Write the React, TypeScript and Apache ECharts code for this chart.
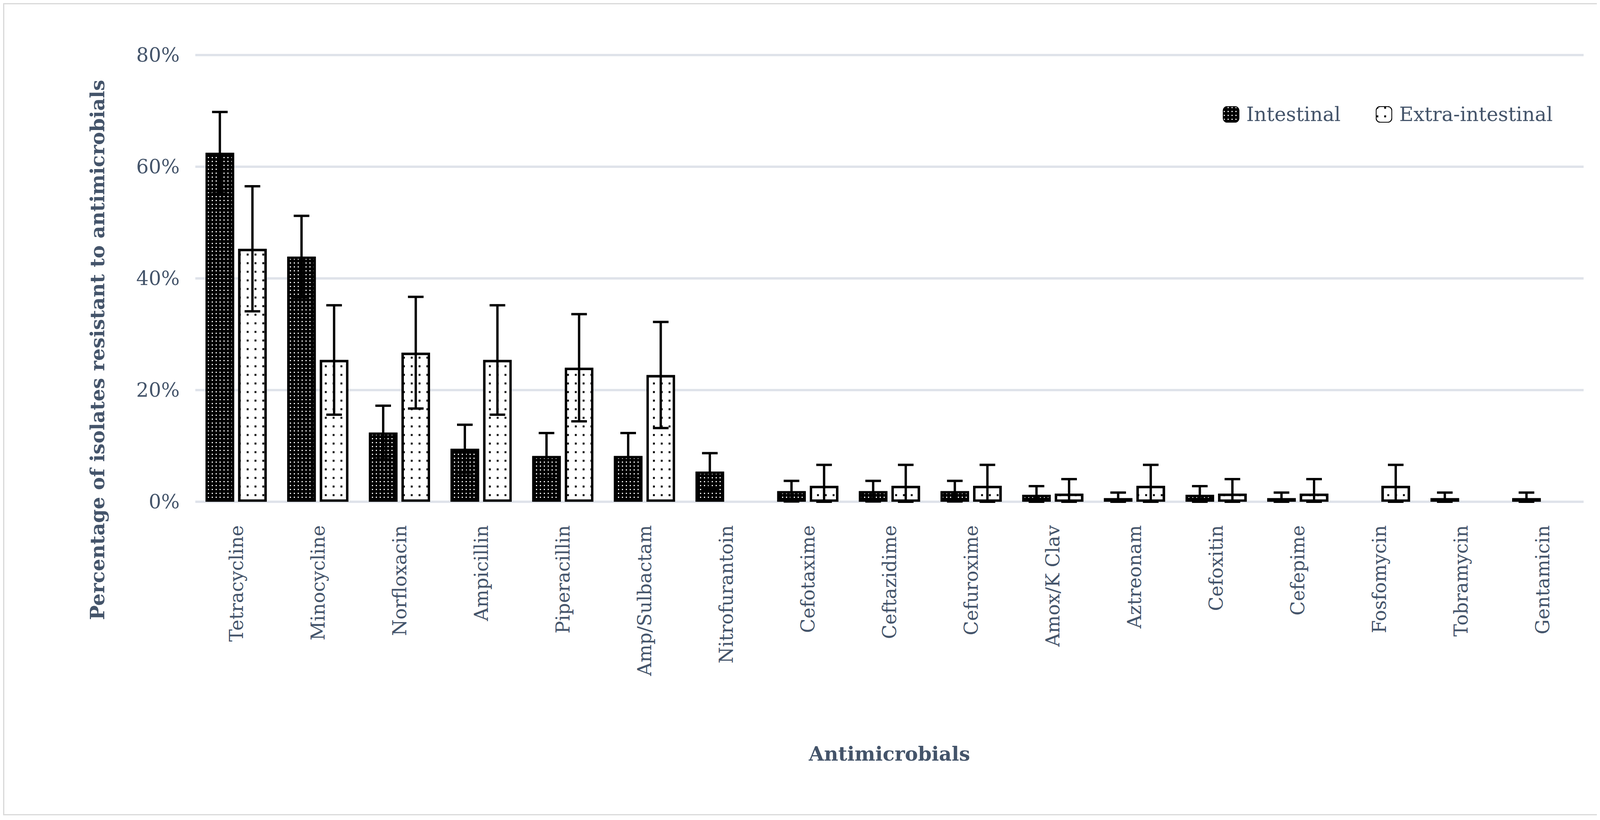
import React, { useEffect, useRef } from 'react';
import * as echarts from 'echarts';

const categories = ['Tetracycline', 'Minocycline', 'Norfloxacin', 'Ampicillin', 'Piperacillin', 'Amp/Sulbactam', 'Nitrofurantoin', 'Cefotaxime', 'Ceftazidime', 'Cefuroxime', 'Amox/K Clav', 'Aztreonam', 'Cefoxitin', 'Cefepime', 'Fosfomycin', 'Tobramycin', 'Gentamicin'];
const intestinal = [62.5, 43.9, 12.4, 9.5, 8.2, 8.2, 5.4, 1.9, 1.9, 1.9, 1.25, 0.65, 1.25, 0.65, null, 0.65, 0.65];
const intestinalErr = [7.3, 7.3, 4.8, 4.3, 4.1, 4.1, 3.3, 1.85, 1.85, 1.85, 1.55, 1.0, 1.55, 1.0, null, 1.0, 1.0];
const extra = [45.3, 25.4, 26.7, 25.4, 24.0, 22.7, null, 2.85, 2.85, 2.85, 1.45, 2.85, 1.45, 1.45, 2.85, null, null];
const extraErr = [11.2, 9.8, 10.0, 9.8, 9.6, 9.5, null, 3.75, 3.75, 3.75, 2.6, 3.75, 2.6, 2.6, 3.75, null, null];

const FONT = 'DejaVu Serif';
const SLATE = '#44546a';
const BAR_W = 0.35;
const GAP = 0.14;

const errSeries = (vals: (number | null)[], errs: (number | null)[], side: number) => ({
  type: 'custom',
  z: 5,
  silent: true,
  data: vals.map((v, i) => (v == null ? [i, '-', '-'] : [i, v, errs[i]])),
  renderItem: (params: any, api: any) => {
    const v = api.value(1);
    if (v === '-' || isNaN(v)) return null;
    const e = api.value(2);
    const catW = api.size([1, 0])[0];
    const off = (side * (BAR_W * catW * (1 + GAP))) / 2;
    const top = api.coord([api.value(0), v + e]);
    const bot = api.coord([api.value(0), Math.max(0, v - e)]);
    const x = top[0] + off;
    const style = { stroke: '#000', lineWidth: 6 };
    return {
      type: 'group',
      children: [
        { type: 'line', shape: { x1: x, y1: top[1], x2: x, y2: bot[1] }, style },
        { type: 'line', shape: { x1: x - 20, y1: top[1], x2: x + 20, y2: top[1] }, style },
        { type: 'line', shape: { x1: x - 20, y1: bot[1], x2: x + 20, y2: bot[1] }, style },
      ],
    };
  },
});

const App: React.FC = () => {
  const chartRef = useRef<HTMLDivElement | null>(null);

  useEffect(() => {
    const chart = echarts.init(chartRef.current!, null, { renderer: 'svg' });
    const option = {
      animation: false,
      backgroundColor: '#fff',
      textStyle: { fontFamily: FONT },
      grid: { left: 489, right: 66, top: 130, bottom: 800, containLabel: false },
      legend: {
        right: 140,
        top: 252,
        itemWidth: 40,
        itemHeight: 40,
        itemGap: 90,
        textStyle: { fontSize: 50, color: SLATE, fontFamily: FONT, padding: [0, 0, 0, 14] },
        data: ['Intestinal', 'Extra-intestinal'],
      },
      graphic: [
        {
          type: 'text',
          x: 238,
          y: 885,
          rotation: Math.PI / 2,
          style: {
            text: 'Percentage of isolates resistant to antimicrobials',
            fontSize: 50,
            fontWeight: 'bold',
            fontFamily: FONT,
            fill: SLATE,
            align: 'center',
            verticalAlign: 'middle',
          },
        },
      ],
      xAxis: {
        type: 'category',
        data: categories,
        name: 'Antimicrobials',
        nameLocation: 'middle',
        nameGap: 620,
        nameTextStyle: { fontSize: 50, fontWeight: 'bold', color: SLATE, fontFamily: FONT },
        axisLine: { show: false },
        axisTick: { show: false },
        axisLabel: { rotate: 90, fontSize: 48, color: SLATE, margin: 60, fontFamily: FONT },
      },
      yAxis: {
        type: 'value',
        min: 0,
        max: 80,
        interval: 20,
        axisLabel: { formatter: '{value}%', fontSize: 50, color: SLATE, margin: 40, fontFamily: FONT },
        splitLine: { lineStyle: { color: '#dfe3ea', width: 6 } },
      },
      series: [
        {
          name: 'Intestinal',
          type: 'bar',
          data: intestinal.map((v) => (v == null ? '-' : v)),
          barWidth: `${BAR_W * 100}%`,
          barGap: `${GAP * 100}%`,
          itemStyle: {
            color: '#000',
            borderColor: '#000',
            borderWidth: 6,
            decal: { symbol: 'rect', color: '#fff', symbolSize: 0.6, dashArrayX: [5, 5], dashArrayY: [5, 5], rotation: 0 },
          },
        },
        {
          name: 'Extra-intestinal',
          type: 'bar',
          data: extra.map((v) => (v == null ? '-' : v)),
          barWidth: `${BAR_W * 100}%`,
          itemStyle: {
            color: '#fff',
            borderColor: '#000',
            borderWidth: 6,
            decal: { symbol: 'rect', color: '#000', symbolSize: 0.8, dashArrayX: [6, 14], dashArrayY: [6, 16], rotation: 0 },
          },
        },
        errSeries(intestinal, intestinalErr, -1),
        errSeries(extra, extraErr, 1),
      ],
    };
    chart.setOption(option as any);
    return () => {
      chart.dispose();
    };
  }, []);

  return (
    <div
      ref={chartRef}
      style={{ width: 4115, height: 2080, border: '3px solid #d9d9d9', boxSizing: 'border-box' }}
    />
  );
};

export default App;
